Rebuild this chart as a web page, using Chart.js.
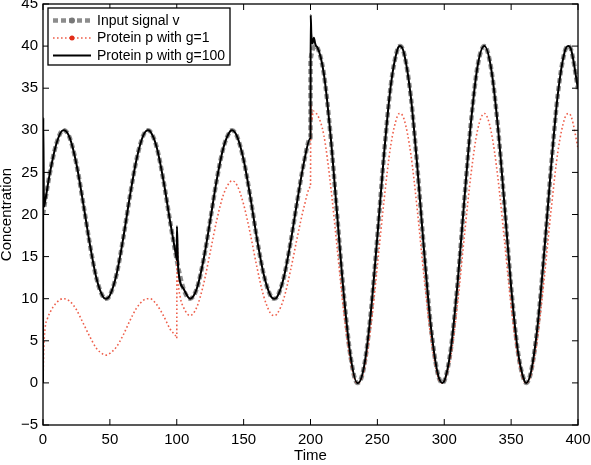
<!DOCTYPE html>
<html><head><meta charset="utf-8">
<script src="https://cdn.jsdelivr.net/npm/chart.js@4.4.1/dist/chart.umd.min.js"></script>
<style>html,body{margin:0;padding:0;background:#fff}canvas{display:block}</style>
</head><body>
<canvas id="c" width="591" height="465"></canvas>
<script>
// ---- data ----
const seriesLabels = ['Input signal v', 'Protein p with g=1', 'Protein p with g=100'];
const xTitle = 'Time';
const yTitle = 'Concentration';
const xTickValues = [0, 50, 100, 150, 200, 250, 300, 350, 400];
const xTickLabels = ['0', '50', '100', '150', '200', '250', '300', '350', '400'];
const yTickValues = [-5, 0, 5, 10, 15, 20, 25, 30, 35, 40, 45];
const yTickLabels = ['\u22125', '0', '5', '10', '15', '20', '25', '30', '35', '40', '45'];

const time = [
  0, 5, 10, 15, 15.7, 20, 25, 30, 35, 40, 45, 47.1, 50, 55, 60, 65, 70, 75, 78.5, 80, 85, 90, 95, 100,
  105, 110, 115, 120, 125, 130, 135, 140, 141.4, 145, 150, 155, 160, 165, 170, 172.8, 175, 180, 185, 190, 195, 200,
  204.2, 205, 210, 215, 220, 225, 230, 235, 235.6, 240, 245, 250, 255, 260, 265, 267, 270, 275, 280, 285, 290, 295, 298.5, 300,
  305, 310, 315, 320, 325, 330, 335, 340, 345, 350, 355, 360, 361.3, 365, 370, 375, 380, 385, 390, 392.7, 395, 400
];
const inputV = [
  20.0, 24.8, 28.4, 30.0, 30.0, 29.1, 26.0, 21.4, 16.5, 12.4, 10.2, 10.0, 10.4, 12.9, 17.2, 22.2, 26.6, 29.4, 30.0, 29.9, 28.0, 24.1, 19.2, 14.6,
  11.2, 10.0, 11.2, 14.6, 19.3, 24.2, 28.0, 29.9, 30.0, 29.3, 26.5, 22.1, 17.1, 12.9, 10.4, 10.0, 10.2, 12.5, 16.6, 21.5, 26.1, 29.1,
  40.0, 39.9, 36.7, 29.4, 19.8, 10.3, 3.1, 0.0, 0.0, 1.9, 8.2, 17.4, 27.2, 35.3, 39.6, 40.0, 39.1, 34.0, 25.4, 15.5, 6.7, 1.2, 0.0, 0.2,
  4.1, 11.9, 21.7, 31.0, 37.7, 40.0, 37.4, 30.6, 21.2, 11.4, 3.8, 0.2, 0.0, 1.4, 7.1, 16.0, 25.9, 34.4, 39.3, 40.0, 39.5, 34.9
];
const proteinG1 = [
  0.0, 8.3, 9.5, 10.0, 10.0, 9.7, 8.7, 7.1, 5.5, 4.1, 3.4, 3.3, 3.5, 4.3, 5.7, 7.4, 8.9, 9.8, 10.0, 10.0, 9.3, 8.0, 6.4, 5.3,
  9.0, 8.0, 9.0, 11.7, 15.5, 19.4, 22.4, 23.9, 24.0, 23.5, 21.2, 17.7, 13.7, 10.3, 8.3, 8.0, 8.2, 10.0, 13.3, 17.2, 20.8, 23.3,
  32.0, 31.9, 29.4, 23.5, 15.9, 8.2, 2.5, 0.0, 0.0, 1.5, 6.5, 13.9, 21.7, 28.2, 31.7, 32.0, 31.3, 27.2, 20.3, 12.4, 5.4, 0.9, 0.0, 0.2,
  3.3, 9.5, 17.4, 24.8, 30.1, 32.0, 29.9, 24.5, 16.9, 9.1, 3.1, 0.1, 0.0, 1.1, 5.7, 12.8, 20.7, 27.5, 31.4, 32.0, 31.6, 27.9
];
const proteinG100 = [
  0.0, 24.8, 28.4, 30.0, 30.0, 29.1, 26.0, 21.4, 16.5, 12.4, 10.2, 10.0, 10.4, 12.9, 17.2, 22.2, 26.6, 29.4, 30.0, 29.9, 28.0, 24.1, 19.2, 14.6,
  11.2, 10.0, 11.2, 14.6, 19.3, 24.2, 28.0, 29.9, 30.0, 29.3, 26.5, 22.1, 17.1, 12.9, 10.4, 10.0, 10.2, 12.5, 16.6, 21.5, 26.1, 29.1,
  40.0, 39.9, 36.7, 29.4, 19.8, 10.3, 3.1, 0.0, 0.0, 1.9, 8.2, 17.4, 27.2, 35.3, 39.6, 40.0, 39.1, 34.0, 25.4, 15.5, 6.7, 1.2, 0.0, 0.2,
  4.1, 11.9, 21.7, 31.0, 37.7, 40.0, 37.4, 30.6, 21.2, 11.4, 3.8, 0.2, 0.0, 1.4, 7.1, 16.0, 25.9, 34.4, 39.3, 40.0, 39.5, 34.9
];
// extra points around the switching times (t = 0, 100, 200)
const inputVJumpTime = [199.9, 200.01];
const inputVJumpVal = [29.05, 38.3];
const g1TransTime = [0.5, 1, 2, 3, 99.9, 100.2, 101, 102.5, 199.9, 200.2, 201, 202];
const g1TransVal = [3.6, 5.4, 7.0, 7.5, 5.35, 17.8, 12.6, 10.3, 23.25, 33.0, 31.2, 32.3];
const g100TransTime = [0.2, 0.7, 1.5, 99.9, 100.15, 101, 199.9, 200.15, 200.6, 201.5, 202.5, 203.5];
const g100TransVal = [31.5, 20.9, 21.5, 14.7, 18.6, 13.8, 29.05, 43.7, 41.5, 40.3, 41.0, 40.3];

// ---- build points ----
function merge(tb, yb, tt, yt) {
  const pts = tb.map((t, i) => ({x: t, y: yb[i]})).concat(tt.map((t, i) => ({x: t, y: yt[i]})));
  pts.sort((a, b) => a.x - b.x);
  return pts;
}

const FONT = '"Liberation Sans", Arial, Helvetica, sans-serif';
Chart.defaults.font.family = FONT;
Chart.defaults.font.size = 15;
Chart.defaults.color = '#000';

const styles = [
  {color: 'rgb(140,140,140)', width: 4.5, dash: [5, 3]},
  {color: 'rgb(238,95,75)', width: 1.6, dash: [1.6, 2.4]},
  {color: '#000000', width: 2, dash: []}
];

const framePlugin = {
  id: 'frame',
  afterDraw(chart) {
    const {ctx, chartArea: a, scales: {x, y}} = chart;
    ctx.save();
    ctx.strokeStyle = '#000';
    ctx.lineWidth = 1.3;
    ctx.setLineDash([]);
    ctx.strokeRect(a.left, a.top, a.right - a.left, a.bottom - a.top);
    const L = 6;
    ctx.beginPath();
    xTickValues.forEach(v => {
      const px = x.getPixelForValue(v);
      ctx.moveTo(px, a.bottom); ctx.lineTo(px, a.bottom - L);
      ctx.moveTo(px, a.top); ctx.lineTo(px, a.top + L);
    });
    yTickValues.forEach(v => {
      const py = y.getPixelForValue(v);
      ctx.moveTo(a.left, py); ctx.lineTo(a.left + L, py);
      ctx.moveTo(a.right, py); ctx.lineTo(a.right - L, py);
    });
    ctx.lineWidth = 1;
    ctx.stroke();

    // legend
    const bx = 48, by = 8, bw = 182, bh = 57;
    ctx.fillStyle = '#fff';
    ctx.fillRect(bx, by, bw, bh);
    ctx.lineWidth = 1.3;
    ctx.strokeStyle = '#000';
    ctx.strokeRect(bx, by, bw, bh);
    const rows = [20.5, 38, 55.5];
    ctx.font = '14px ' + FONT;
    ctx.textBaseline = 'middle';
    ctx.textAlign = 'left';
    chart.data.datasets.forEach((ds, i) => {
      const s = styles[i];
      const yy = rows[i];
      ctx.beginPath();
      ctx.setLineDash(s.dash);
      ctx.lineWidth = s.width;
      ctx.strokeStyle = s.color;
      ctx.moveTo(53, yy); ctx.lineTo(91, yy);
      ctx.stroke();
      ctx.setLineDash([]);
      if (i === 0) {
        ctx.fillStyle = 'rgb(120,120,120)';
        ctx.beginPath(); ctx.arc(72, yy, 3, 0, Math.PI * 2); ctx.fill();
      } else if (i === 1) {
        ctx.fillStyle = 'rgb(225,45,25)';
        ctx.beginPath(); ctx.arc(72, yy, 2.5, 0, Math.PI * 2); ctx.fill();
      }
      ctx.fillStyle = '#000';
      ctx.fillText(ds.label, 97, yy + 0.5);
    });
    ctx.restore();
  }
};

new Chart(document.getElementById('c'), {
  type: 'line',
  data: {
    datasets: [
      {label: seriesLabels[0], data: merge(time, inputV, inputVJumpTime, inputVJumpVal), order: 3},
      {label: seriesLabels[1], data: merge(time, proteinG1, g1TransTime, g1TransVal), order: 2},
      {label: seriesLabels[2], data: merge(time, proteinG100, g100TransTime, g100TransVal), order: 1}
    ].map((d, i) => Object.assign(d, {
      borderColor: styles[i].color,
      borderWidth: styles[i].width,
      borderDash: styles[i].dash,
      pointRadius: 0,
      fill: false,
      cubicInterpolationMode: 'monotone'
    }))
  },
  options: {
    responsive: false,
    animation: false,
    devicePixelRatio: 1,
    layout: {padding: {left: 0, right: 13, top: 4, bottom: 0}},
    plugins: {legend: {display: false}, tooltip: {enabled: false}},
    scales: {
      x: {
        type: 'linear', min: 0, max: 400,
        grid: {display: false, drawTicks: false},
        border: {display: false},
        ticks: {stepSize: 50, padding: 6, maxRotation: 0, autoSkip: false,
          callback: v => { const k = xTickValues.indexOf(v); return k >= 0 ? xTickLabels[k] : ''; }},
        title: {display: true, text: xTitle, padding: {top: 0, bottom: 0}},
        afterFit(s) { s.height = 40; s.paddingLeft = 0; s.paddingRight = 0; }
      },
      y: {
        type: 'linear', min: -5, max: 45,
        grid: {display: false, drawTicks: false},
        border: {display: false},
        ticks: {stepSize: 5, padding: 5, autoSkip: false,
          callback: v => { const k = yTickValues.indexOf(v); return k >= 0 ? yTickLabels[k] : ''; }},
        title: {display: true, text: yTitle, padding: {top: -2, bottom: 0}},
        afterFit(s) { s.width = 43; s.paddingTop = 0; s.paddingBottom = 0; }
      }
    }
  },
  plugins: [framePlugin]
});
</script>
</body></html>
